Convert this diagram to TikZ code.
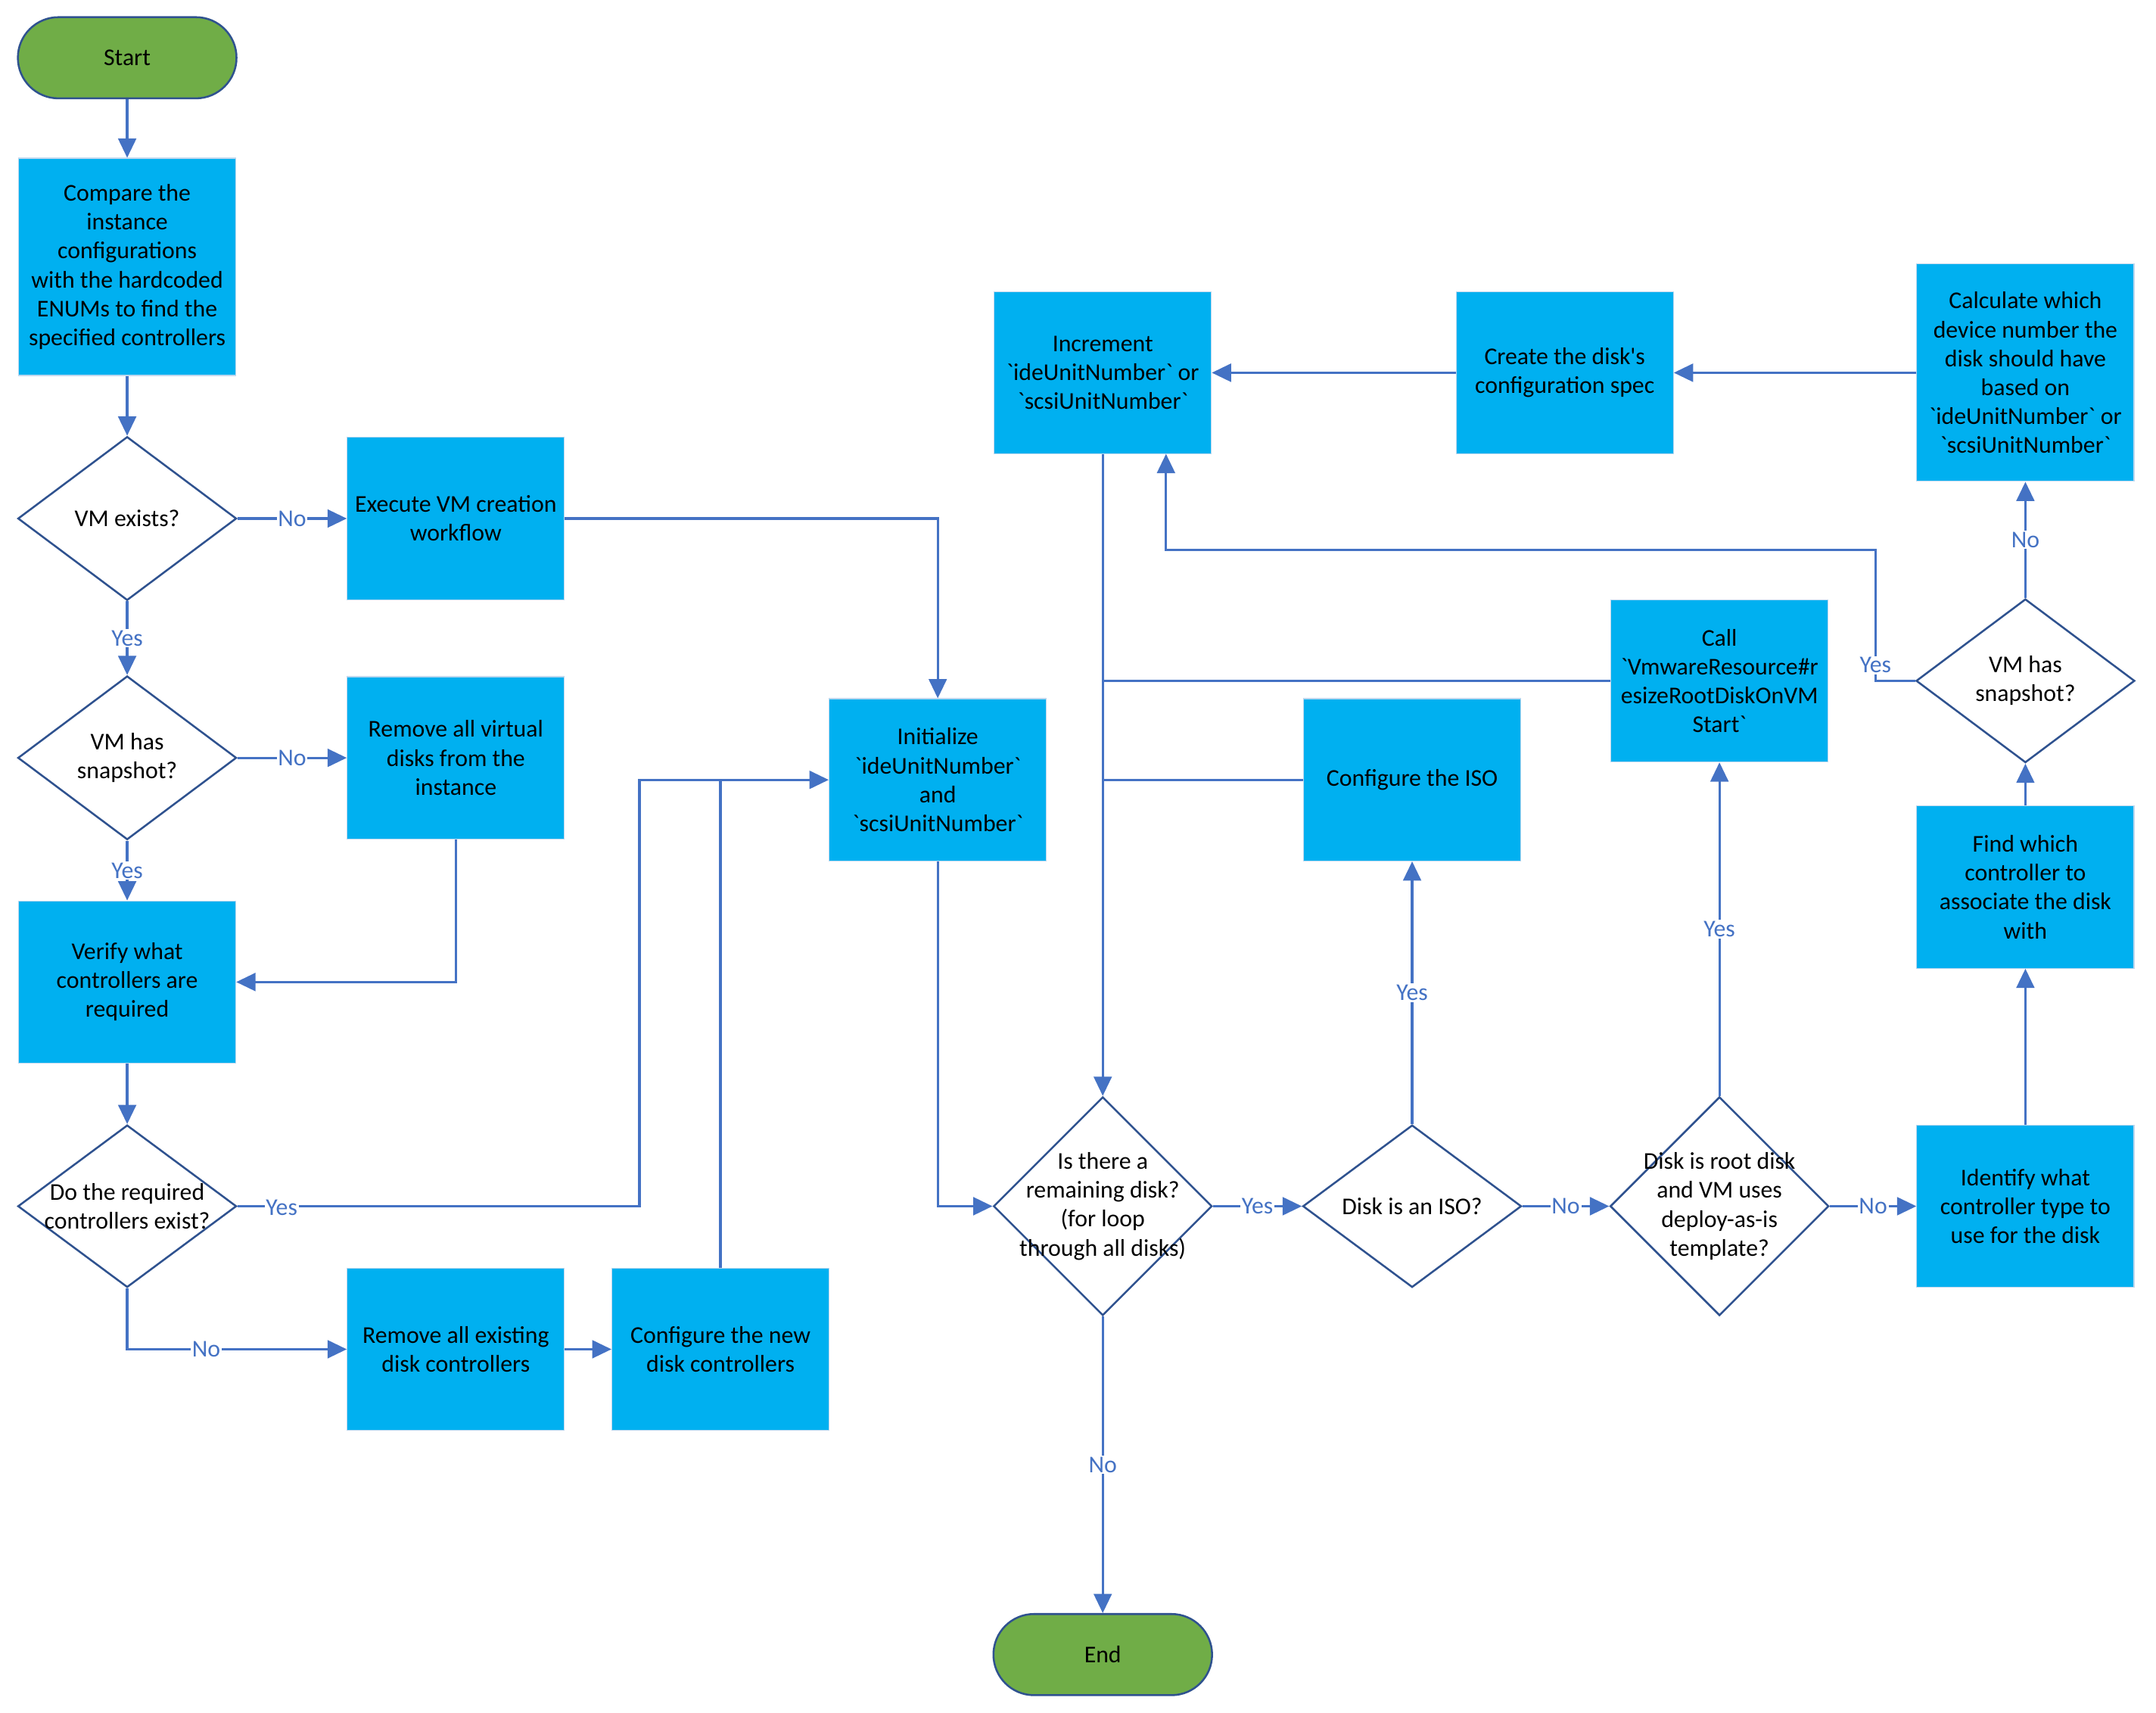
\documentclass[tikz,border=0pt]{standalone}
\usepackage{fontspec}
\setmainfont{Carlito}
\usetikzlibrary{shapes.geometric,arrows.meta}
\definecolor{boxc}{HTML}{00B0F0}
\definecolor{boxline}{HTML}{BDD7EE}
\definecolor{deccol}{HTML}{2F528F}
\definecolor{termc}{HTML}{70AD47}
\definecolor{linec}{HTML}{4472C4}
\newcommand\bkq{\textasciigrave}
\begin{document}
\begin{tikzpicture}[x=1pt,y=-1pt,
  every node/.style={font=\fontsize{17.5}{21}\selectfont},
  box/.style={rectangle, fill=boxc, draw=boxline, line width=0.6pt, minimum width=158pt, minimum height=118pt, inner sep=0pt, align=center},
  dec/.style={diamond, draw=deccol, line width=1.4pt, fill=white, minimum width=159pt, minimum height=119pt, inner sep=0pt},
  dl/.style={align=center, text=black, inner sep=0pt},
  term/.style={rectangle, rounded corners=29.5pt, fill=termc, draw=deccol, line width=1.4pt, minimum width=159pt, minimum height=59pt},
  conn/.style={draw=linec, line width=1.8pt},
  arr/.style={conn, -{Triangle[length=14pt,width=13pt]}},
  yn/.style={fill=white, text=linec, inner sep=1pt}
]
\useasboundingbox (0,0) rectangle (1568,1245);
% terminals
\node[term] (start) at (92.5,42) {Start};
\node[term] (end) at (802,1203) {End};
% boxes
\node[box, minimum height=158pt] (compare) at (92.5,194) {Compare the\\instance\\configurations\\with the hardcoded\\ENUMs to find the\\specified controllers};
\node[box] (exec) at (331.5,377) {Execute VM creation\\workflow};
\node[box] (rmdisks) at (331.5,551) {Remove all virtual\\disks from the\\instance};
\node[box] (verify) at (92.5,714) {Verify what\\controllers are\\required};
\node[box] (rmctrl) at (331.5,981) {Remove all existing\\disk controllers};
\node[box] (newctrl) at (524,981) {Configure the new\\disk controllers};
\node[box] (init) at (682,567) {Initialize\\\bkq ideUnitNumber\bkq\\and\\\bkq scsiUnitNumber\bkq};
\node[box] (cfgiso) at (1027,567) {Configure the ISO};
\node[box] (call) at (1250.5,495) {Call\\\bkq VmwareResource\#r\\esizeRootDiskOnVM\\Start\bkq};
\node[box] (ident) at (1473,877) {Identify what\\controller type to\\use for the disk};
\node[box] (find) at (1473,645) {Find which\\controller to\\associate the disk\\with};
\node[box, minimum height=158pt] (calc) at (1473,271) {Calculate which\\device number the\\disk should have\\based on\\\bkq ideUnitNumber\bkq{} or\\\bkq scsiUnitNumber\bkq};
\node[box] (create) at (1138,271) {Create the disk\textquotesingle s\\configuration spec};
\node[box] (incr) at (802,271) {Increment\\\bkq ideUnitNumber\bkq{} or\\\bkq scsiUnitNumber\bkq};
% decisions
\node[dec, label={[dl]center:{VM exists?}}] (vmex) at (92.5,377) {};
\node[dec, label={[dl]center:{VM has\\snapshot?}}] (snap1) at (92.5,551) {};
\node[dec, minimum height=118pt, label={[dl]center:{Do the required\\controllers exist?}}] (ctrl) at (92.5,877) {};
\node[dec, minimum height=159pt, label={[dl]center:{Is there a\\remaining disk?\\(for loop\\through all disks)}}] (remain) at (802,877) {};
\node[dec, minimum height=118pt, label={[dl]center:{Disk is an ISO?}}] (iso) at (1027,877) {};
\node[dec, minimum height=159pt, label={[dl]center:{Disk is root disk\\and VM uses\\deploy-as-is\\template?}}] (root) at (1250.5,877) {};
\node[dec, label={[dl]center:{VM has\\snapshot?}}] (snap2) at (1473,495) {};
% helper coordinates
\coordinate (yj) at (465,877);
\coordinate (ys1) at (1364,495);
\coordinate (ys2) at (1364,400);
\coordinate (ys3) at (848,330);
% connectors
\draw[arr] (start) -- (compare);
\draw[arr] (compare) -- (vmex);
\draw[arr] (vmex) -- node[yn]{No} (exec);
\draw[arr] (vmex) -- node[yn]{Yes} (snap1);
\draw[arr] (snap1) -- node[yn]{No} (rmdisks);
\draw[arr] (snap1) -- node[yn]{Yes} (verify);
\draw[arr] (rmdisks.south) |- (verify.east);
\draw[arr] (verify) -- (ctrl);
\draw[arr] (ctrl.east) -- node[yn, pos=0.11, yshift=-1pt]{Yes} (yj) |- (init.west);
\draw[arr] (ctrl.south) |- node[yn, pos=0.68]{No} (rmctrl.west);
\draw[arr] (rmctrl) -- (newctrl);
\draw[conn] (newctrl.north) -- (newctrl.north |- init.west);
\draw[arr] (exec.east) -| (init.north);
\draw[arr] (init.south) |- (remain.west);
\draw[arr] (remain) -- node[yn]{Yes} (iso);
\draw[arr] (remain) -- node[yn]{No} (end);
\draw[arr] (iso) -- node[yn]{Yes} (cfgiso);
\draw[arr] (iso) -- node[yn]{No} (root);
\draw[arr] (root) -- node[yn]{Yes} (call);
\draw[arr] (root) -- node[yn]{No} (ident);
\draw[arr] (ident) -- (find);
\draw[arr] (find) -- (snap2);
\draw[arr] (snap2) -- node[yn]{No} (calc);
\draw[arr] (calc) -- (create);
\draw[arr] (create) -- (incr);
\draw[arr] (incr) -- (remain);
\draw[conn] (cfgiso.west) -- (cfgiso.west -| incr.south);
\draw[conn] (call.west) -- (call.west -| incr.south);
\draw[arr] (snap2.west) -- (ys1) -- node[yn, pos=0.12]{Yes} (ys2) -| (ys3);
\end{tikzpicture}
\end{document}
